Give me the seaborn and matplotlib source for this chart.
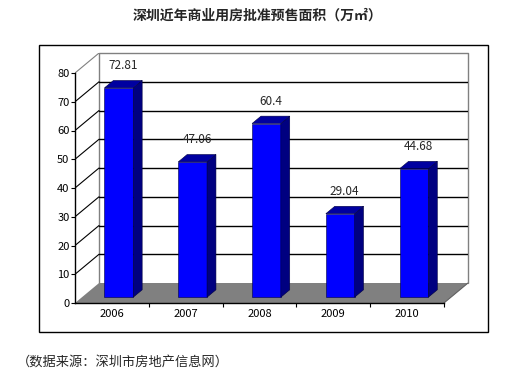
import numpy as np
import matplotlib
matplotlib.use('Agg')
import matplotlib.pyplot as plt
import pandas as pd
import seaborn as sns

years = ['2006', '2007', '2008', '2009', '2010']
area = [72.81, 47.06, 60.4, 29.04, 44.68]
y_ticks = [0, 10, 20, 30, 40, 50, 60, 70, 80]

title = '深圳近年商业用房批准预售面积（万㎡）'
source = '（数据来源：深圳市房地产信息网）'

df = pd.DataFrame({'year': years, 'area': area})

sns.set_theme(style='white')
plt.rcParams['font.family'] = ['Noto Sans CJK SC', 'DejaVu Sans']

W, H = 530, 376
fig = plt.figure(figsize=(W / 100, H / 100), dpi=100)
fig.patch.set_facecolor('white')

# axes: front y=0 at px 303, back wall top at px 53, front axis x=75, back wall right x=468
ax = fig.add_axes([75 / W, (H - 303) / H, (468 - 75) / W, (303 - 53) / H])
ax.set_facecolor('none')

px_x = 73.6            # px per category
px_y = 230 / 80        # px per unit
DX = 24 / px_x         # wall depth in category units
DY = 20 / px_y         # wall depth in value units
ax.set_xlim(-0.5, 4.5 + DX)
ax.set_ylim(0, 80 + DY)

x0, x1 = -0.5, 4.5
# back wall border (gray) and gridlines
ax.plot([x0 + DX, x0 + DX, x1 + DX, x1 + DX], [DY, 80 + DY, 80 + DY, DY],
        color='#808080', lw=1, clip_on=False, zorder=1)
for v in y_ticks[1:-1]:
    ax.plot([x0 + DX, x1 + DX], [v + DY, v + DY], color='black', lw=1, zorder=1)
    ax.plot([x0, x0 + DX], [v, v + DY], color='black', lw=0.8, zorder=1)
ax.plot([x0, x0 + DX], [80, 80 + DY], color='#808080', lw=0.8, zorder=1)

# floor
ax.fill([x0, x1, x1 + DX, x0 + DX], [0, 0, DY, DY], color='#808080', lw=0, zorder=2)
ax.plot([x1, x1 + DX], [0, DY], color='#606060', lw=0.8, zorder=2)

# front faces
sns.barplot(data=df, x='year', y='area', color='#0000ff', saturation=1, width=0.39,
            edgecolor='#000040', linewidth=0.4, ax=ax, zorder=3)

f0 = 0.29   # depth of bar front face
fb = 0.37   # bar depth
sx, sy = f0 * DX, f0 * DY
bx, by = fb * DX, fb * DY
bars = list(ax.containers[0])
for p, v in zip(bars, area):
    p.set_x(p.get_x() + sx)
    p.set_y(sy)
    xl = p.get_x()
    xr = xl + p.get_width()
    top = sy + v
    # side
    ax.fill([xr, xr + bx, xr + bx, xr], [sy, sy + by, top + by, top],
            facecolor='#000080', edgecolor='#000040', lw=0.4, zorder=3)
    # top
    ax.fill([xl, xr, xr + bx, xl + bx], [top, top, top + by, top + by],
            facecolor='#0000a0', edgecolor='#000040', lw=0.4, zorder=3)
    ax.annotate(f'{v:g}', ((xl + xr + bx) / 2, top + by), xytext=(0, 6),
                textcoords='offset points', ha='center', va='bottom', fontsize=8.5)

# axes lines and ticks
for s in ['top', 'right']:
    ax.spines[s].set_visible(False)
ax.spines['left'].set_bounds(0, 80)
ax.spines['bottom'].set_bounds(x0, x1)
ax.spines['left'].set_color('black')
ax.spines['bottom'].set_color('black')
ax.spines['left'].set_linewidth(1)
ax.spines['bottom'].set_linewidth(1)
ax.spines['left'].set_zorder(4)
ax.spines['bottom'].set_zorder(4)

ax.set_xlim(-0.5, 4.5 + DX)
ax.set_ylim(0, 80 + DY)
ax.set_yticks(y_ticks)
ax.set_yticklabels([str(t) for t in y_ticks])
ax.set_xticks(range(len(years)))
ax.set_xticklabels(years)
ax.set_xticks([i + 0.5 for i in range(len(years))], minor=True)
ax.tick_params(axis='y', length=3, width=0.8, pad=1, labelsize=8, left=True, colors='black')
ax.tick_params(axis='x', which='major', length=0, pad=4, labelsize=8, colors='black')
ax.tick_params(axis='x', which='minor', length=3, width=0.8, bottom=True, color='black')
ax.set_xlabel('')
ax.set_ylabel('')
ax.grid(False)

# outer frame
fig.add_artist(plt.Rectangle((39 / W, (H - 332) / H), (488 - 39) / W, (332 - 45) / H,
                             transform=fig.transFigure, fill=False, edgecolor='black', lw=1))

fig.text(257 / W, 1 - 16 / H, title, ha='center', va='center', fontsize=10, fontweight='bold')
fig.text(17 / W, 1 - 362 / H, source, ha='left', va='center', fontsize=9.5)

fig.savefig('out.png', dpi=100)
